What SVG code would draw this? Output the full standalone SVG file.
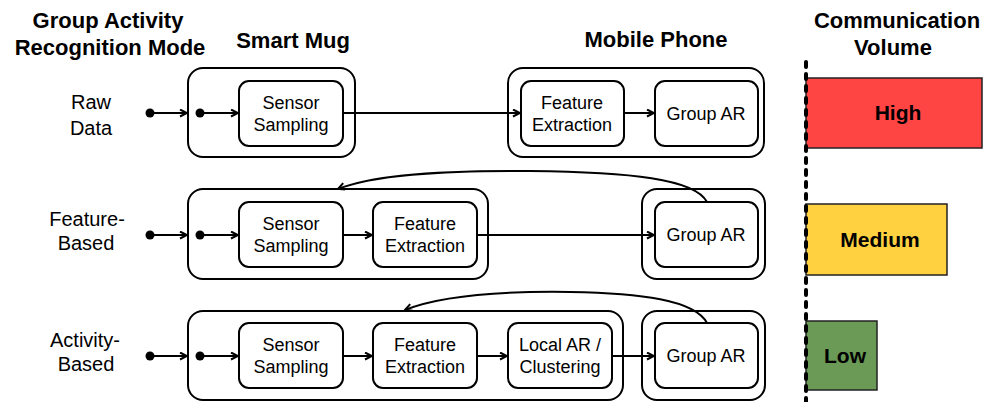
<svg xmlns="http://www.w3.org/2000/svg" width="993" height="402" viewBox="0 0 993 402">
<defs>
<marker id="arr" markerWidth="10" markerHeight="10" refX="8" refY="4" orient="auto" markerUnits="userSpaceOnUse">
<path d="M1,0.5 L8,4 L1,7.5" fill="none" stroke="#000" stroke-width="2"/>
</marker>
<style>
.hdr{font-family:"Liberation Sans",Arial,sans-serif;font-weight:bold;font-size:22px;fill:#000;text-anchor:middle}
.lbl{font-family:"Liberation Sans",Arial,sans-serif;font-size:20px;fill:#000;text-anchor:middle}
.txt{font-family:"Liberation Sans",Arial,sans-serif;font-size:18px;fill:#000;text-anchor:middle}
.outer{fill:#fff;stroke:#000;stroke-width:2}
.inner{fill:#fff;stroke:#000;stroke-width:2}
.ln{fill:none;stroke:#000;stroke-width:2;marker-end:url(#arr)}
.bar{stroke:#222;stroke-width:1.5}
.bt{font-family:"Liberation Sans",Arial,sans-serif;font-weight:bold;font-size:21px;fill:#000;text-anchor:middle}
</style>
</defs>
<rect width="993" height="402" fill="#fff"/>

<g id="headers">
<text class="hdr" x="108" y="28">Group Activity</text>
<text class="hdr" x="110" y="55">Recognition Mode</text>
<text class="hdr" x="293" y="48">Smart Mug</text>
<text class="hdr" x="656" y="47">Mobile Phone</text>
<text class="hdr" x="897" y="28">Communication</text>
<text class="hdr" x="893" y="55">Volume</text>
</g>

<g id="row-labels">
<text class="lbl" x="91" y="109">Raw</text>
<text class="lbl" x="91" y="135">Data</text>
<text class="lbl" x="87" y="226">Feature-</text>
<text class="lbl" x="86" y="250">Based</text>
<text class="lbl" x="85" y="347">Activity-</text>
<text class="lbl" x="86" y="371">Based</text>
</g>

<!-- Row 1 -->
<g id="r1-mug"><rect class="outer" x="188" y="68" width="167" height="89" rx="15"/></g>
<g id="r1-phone"><rect class="outer" x="508" y="68" width="256" height="89" rx="15"/></g>
<g id="r1-ss"><rect class="inner" x="239" y="81" width="104" height="65" rx="10"/>
<text class="txt" x="291" y="109">Sensor</text><text class="txt" x="291" y="131">Sampling</text></g>
<g id="r1-fe"><rect class="inner" x="521" y="81" width="103" height="65" rx="10"/>
<text class="txt" x="572" y="109">Feature</text><text class="txt" x="572" y="131">Extraction</text></g>
<g id="r1-gar"><rect class="inner" x="655" y="81" width="103" height="65" rx="10"/>
<text class="txt" x="706" y="120">Group AR</text></g>

<!-- Row 2 -->
<g id="r2-mug"><rect class="outer" x="188" y="189" width="300" height="90" rx="15"/></g>
<g id="r2-phone"><rect class="outer" x="642" y="189" width="123" height="90" rx="15"/></g>
<g id="r2-ss"><rect class="inner" x="239" y="202" width="104" height="65" rx="10"/>
<text class="txt" x="291" y="230">Sensor</text><text class="txt" x="291" y="252">Sampling</text></g>
<g id="r2-fe"><rect class="inner" x="373" y="202" width="104" height="65" rx="10"/>
<text class="txt" x="425" y="230">Feature</text><text class="txt" x="425" y="252">Extraction</text></g>
<g id="r2-gar"><rect class="inner" x="655" y="202" width="103" height="65" rx="10"/>
<text class="txt" x="706" y="241">Group AR</text></g>

<!-- Row 3 -->
<g id="r3-mug"><rect class="outer" x="188" y="311" width="435" height="89" rx="15"/></g>
<g id="r3-phone"><rect class="outer" x="642" y="311" width="123" height="89" rx="15"/></g>
<g id="r3-ss"><rect class="inner" x="239" y="323" width="104" height="65" rx="10"/>
<text class="txt" x="291" y="351">Sensor</text><text class="txt" x="291" y="373">Sampling</text></g>
<g id="r3-fe"><rect class="inner" x="373" y="323" width="104" height="65" rx="10"/>
<text class="txt" x="425" y="351">Feature</text><text class="txt" x="425" y="373">Extraction</text></g>
<g id="r3-lar"><rect class="inner" x="508" y="323" width="104" height="65" rx="10"/>
<text class="txt" x="560" y="351">Local AR /</text><text class="txt" x="560" y="373">Clustering</text></g>
<g id="r3-gar"><rect class="inner" x="655" y="323" width="103" height="65" rx="10"/>
<text class="txt" x="706" y="362">Group AR</text></g>

<g id="connectors">
<circle cx="150" cy="113" r="4.5"/><circle cx="200" cy="113" r="4.5"/>
<line class="ln" x1="150" y1="113" x2="187" y2="113"/>
<line class="ln" x1="200" y1="113" x2="238" y2="113"/>
<line class="ln" x1="343" y1="113" x2="520" y2="113"/>
<line class="ln" x1="624" y1="113" x2="654" y2="113"/>

<circle cx="150" cy="235" r="4.5"/><circle cx="200" cy="235" r="4.5"/>
<line class="ln" x1="150" y1="235" x2="187" y2="235"/>
<line class="ln" x1="200" y1="235" x2="238" y2="235"/>
<line class="ln" x1="343" y1="235" x2="372" y2="235"/>
<line class="ln" x1="477" y1="235" x2="654" y2="235"/>
<path class="ln" d="M707,202 C695,179 630,172 530,171 C440,170 370,176 338,189"/>

<circle cx="150" cy="356" r="4.5"/><circle cx="200" cy="356" r="4.5"/>
<line class="ln" x1="150" y1="356" x2="187" y2="356"/>
<line class="ln" x1="200" y1="356" x2="238" y2="356"/>
<line class="ln" x1="343" y1="356" x2="372" y2="356"/>
<line class="ln" x1="477" y1="356" x2="507" y2="356"/>
<line class="ln" x1="612" y1="356" x2="654" y2="356"/>
<path class="ln" d="M707,323 C695,300 640,293 570,292 C500,291 440,296 405,310"/>
</g>

<g id="volume">
<rect class="bar" x="806" y="78" width="176" height="70" fill="#ff4444"/>
<text class="bt" x="898" y="120">High</text>
<rect class="bar" x="806" y="204" width="141" height="71" fill="#ffd040"/>
<text class="bt" x="880" y="247">Medium</text>
<rect class="bar" x="806" y="321" width="71" height="69" fill="#6a9a55"/>
<text class="bt" x="845" y="363">Low</text>
<line x1="806" y1="62" x2="806" y2="402" stroke="#000" stroke-width="4" stroke-dasharray="5 7" stroke-linecap="round"/>
</g>
</svg>
